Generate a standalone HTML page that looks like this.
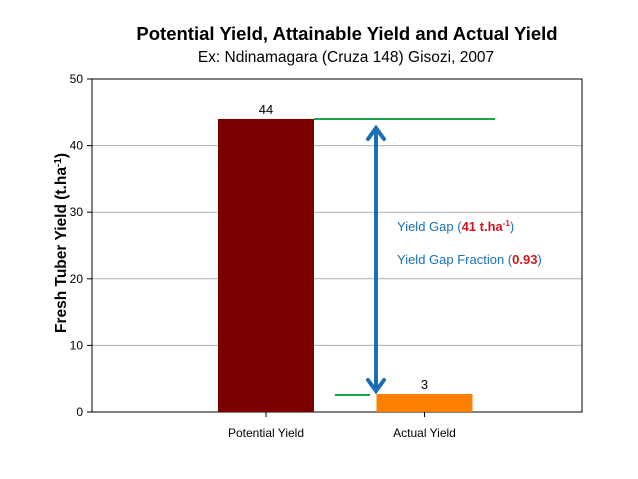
<!DOCTYPE html>
<html><head><meta charset="utf-8"><style>
html,body{margin:0;padding:0;background:#fff;}
svg{display:block;font-family:"Liberation Sans",Arial,sans-serif;}
</style></head><body>
<svg id="chart" width="638" height="479" viewBox="0 0 638 479">
<text x="347" y="40" text-anchor="middle" font-size="18.5" font-weight="bold" fill="#000">Potential Yield, Attainable Yield and Actual Yield</text>
<text x="346" y="62" text-anchor="middle" font-size="15.5" fill="#000">Ex: Ndinamagara (Cruza 148) Gisozi, 2007</text>
<g id="grid"></g>
<rect x="92" y="79" width="490" height="333" fill="none" stroke="#000" stroke-width="1"/>
<g id="bars"></g>
<text transform="translate(66,243) rotate(-90)" text-anchor="middle" font-size="15.5" font-weight="bold" fill="#000">Fresh Tuber Yield (t.ha<tspan dy="-5" font-size="10">-1</tspan><tspan dy="5">)</tspan></text>
<line x1="314" y1="119" x2="495" y2="119" stroke="#1aa34a" stroke-width="2"/>
<line x1="335" y1="395" x2="370" y2="395" stroke="#1aa34a" stroke-width="2"/>
<g stroke="#1a6fb5" stroke-width="4" fill="none" stroke-linecap="round">
<line x1="376" y1="130" x2="376" y2="389"/>
<polyline points="368,139 376,128 384,139"/>
<polyline points="368,380 376,391 384,380"/>
</g>
<text x="397" y="231" font-size="13" fill="#1a6fb5">Yield Gap (<tspan fill="#d0161c" font-weight="bold">41 t.ha<tspan dy="-5" font-size="8">-1</tspan></tspan><tspan dy="5">)</tspan></text>
<text x="397" y="264" font-size="13" fill="#1a6fb5">Yield Gap Fraction (<tspan fill="#d0161c" font-weight="bold">0.93</tspan>)</text>
</svg>
<script>
const categories = ["Potential Yield", "Actual Yield"];
const values = [44, 2.7];
const valueLabels = ["44", "3"];
const colors = ["#7a0000", "#ff8000"];
const yTicks = [0, 10, 20, 30, 40, 50];
const NS = "http://www.w3.org/2000/svg";
const y = v => 412 - v * (333 / 50);
const xc = i => 266 + i * 158.5;
const barW = 96;
const grid = document.getElementById("grid");
const bars = document.getElementById("bars");
yTicks.forEach(t => {
  if (t > 0 && t < 50) {
    const l = document.createElementNS(NS, "line");
    l.setAttribute("x1", 92); l.setAttribute("x2", 582);
    l.setAttribute("y1", y(t)); l.setAttribute("y2", y(t));
    l.setAttribute("stroke", "#b0b0b0"); l.setAttribute("stroke-width", "1");
    
    
    grid.appendChild(l);
  }
  const tk = document.createElementNS(NS, "line");
  tk.setAttribute("x1", 87); tk.setAttribute("x2", 92);
  tk.setAttribute("y1", y(t)); tk.setAttribute("y2", y(t));
  tk.setAttribute("stroke", "#000");
  
  
  grid.appendChild(tk);
  const tx = document.createElementNS(NS, "text");
  tx.setAttribute("x", 83); tx.setAttribute("y", y(t) + 4);
  tx.setAttribute("text-anchor", "end"); tx.setAttribute("font-size", "12");
  tx.textContent = t;
  
  
  grid.appendChild(tx);
});
categories.forEach((c, i) => {
  const r = document.createElementNS(NS, "rect");
  r.setAttribute("x", xc(i) - barW / 2); r.setAttribute("width", barW);
  r.setAttribute("y", y(values[i])); r.setAttribute("height", 412 - y(values[i]));
  r.setAttribute("fill", colors[i]);
  
  
  bars.appendChild(r);
  const v = document.createElementNS(NS, "text");
  v.setAttribute("x", xc(i)); v.setAttribute("y", y(values[i]) - 5);
  v.setAttribute("text-anchor", "middle"); v.setAttribute("font-size", "13");
  v.textContent = valueLabels[i];
  
  
  bars.appendChild(v);
  const tk = document.createElementNS(NS, "line");
  tk.setAttribute("x1", xc(i)); tk.setAttribute("x2", xc(i));
  tk.setAttribute("y1", 412); tk.setAttribute("y2", 417);
  tk.setAttribute("stroke", "#000");
  
  
  bars.appendChild(tk);
  const lb = document.createElementNS(NS, "text");
  lb.setAttribute("x", xc(i)); lb.setAttribute("y", 437);
  lb.setAttribute("text-anchor", "middle"); lb.setAttribute("font-size", "12");
  lb.textContent = c;
  
  
  bars.appendChild(lb);
});
</script>
</body></html>
